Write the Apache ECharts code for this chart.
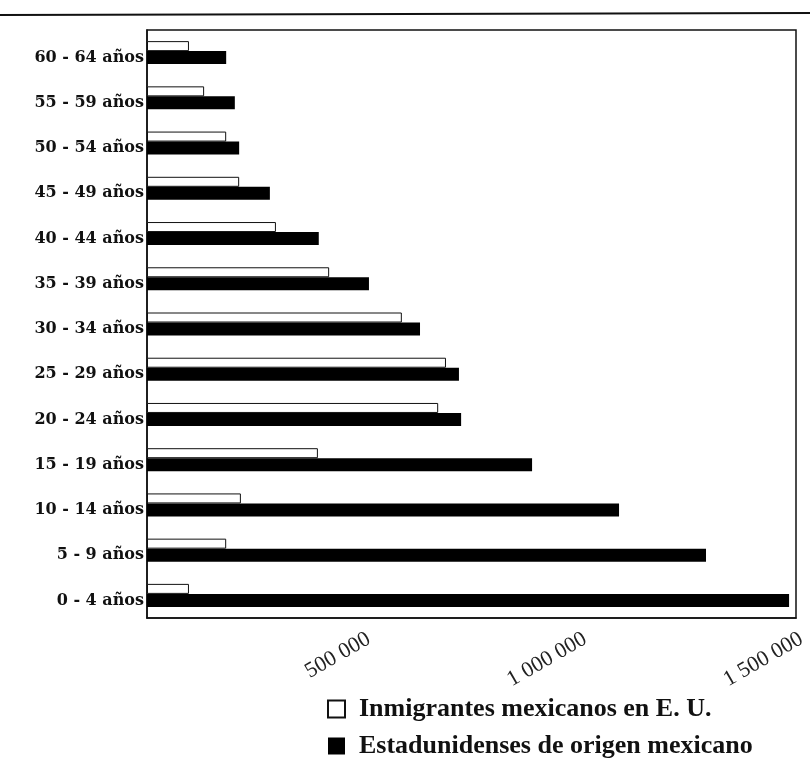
<!DOCTYPE html>
<html><head><meta charset="utf-8">
<script src="https://cdn.jsdelivr.net/npm/echarts@6/dist/echarts.min.js"></script>
<style>html,body{margin:0;padding:0;background:#fff}#c{width:810px;height:762px}</style>
</head><body><div id="c"></div>
<script>
const categories = ['0 - 4 años','5 - 9 años','10 - 14 años','15 - 19 años','20 - 24 años','25 - 29 años','30 - 34 años','35 - 39 años','40 - 44 años','45 - 49 años','50 - 54 años','55 - 59 años','60 - 64 años'];
const inmigrantes = [97000,183000,217000,395000,673000,691000,589000,421000,298000,213000,183000,132000,97000];
const estadunidenses = [1484000,1292000,1091000,890000,726000,721000,631000,513000,397000,284000,213000,203000,183000];
const xTicks = {min:0, max:1500000, interval:500000};
const seriesNames = ['Inmigrantes mexicanos en E. U.','Estadunidenses de origen mexicano'];

const chart = echarts.init(document.getElementById('c'));
chart.setOption({
  backgroundColor:'#fff',
  animation:false,
  graphic:[{type:'line',shape:{x1:0,y1:15,x2:810,y2:13},style:{stroke:'#111',lineWidth:2}}],
  grid:{left:147,right:14,top:30,height:588,show:true,borderColor:'#111',borderWidth:1.5,backgroundColor:'transparent'},
  legend:{orient:'vertical',left:327,top:696,padding:0,itemWidth:17,itemHeight:17,itemGap:11,icon:'rect',
    data:seriesNames,
    textStyle:{fontFamily:'Liberation Serif',fontWeight:'bold',fontSize:26,color:'#111',padding:[0,0,0,9]}},
  xAxis:{type:'value',min:xTicks.min,max:xTicks.max,interval:xTicks.interval,
    axisLine:{show:true,lineStyle:{color:'#111',width:1.5}},axisTick:{show:false},splitLine:{show:false},
    axisLabel:{rotate:30,margin:10,fontFamily:'Liberation Serif',fontSize:22,color:'#222',verticalAlign:'top',
      formatter:v=> v===0 ? '' : String(v).replace(/\B(?=(\d{3})+(?!\d))/g,' ')}},
  yAxis:{type:'category',data:categories,
    axisLine:{show:true,lineStyle:{color:'#111',width:1.5}},axisTick:{show:false},
    axisLabel:{margin:3,fontFamily:'DejaVu Serif',fontWeight:'bold',fontSize:16,color:'#111',verticalAlign:'top',lineHeight:10}},
  series:[
    {name:seriesNames[0],type:'bar',data:inmigrantes,barWidth:10,barGap:'0%',
      itemStyle:{color:'#fff',borderColor:'#111',borderWidth:1}},
    {name:seriesNames[1],type:'bar',data:estadunidenses,barWidth:13,barGap:'0%',
      itemStyle:{color:'#000'}}
  ]
});
</script></body></html>
